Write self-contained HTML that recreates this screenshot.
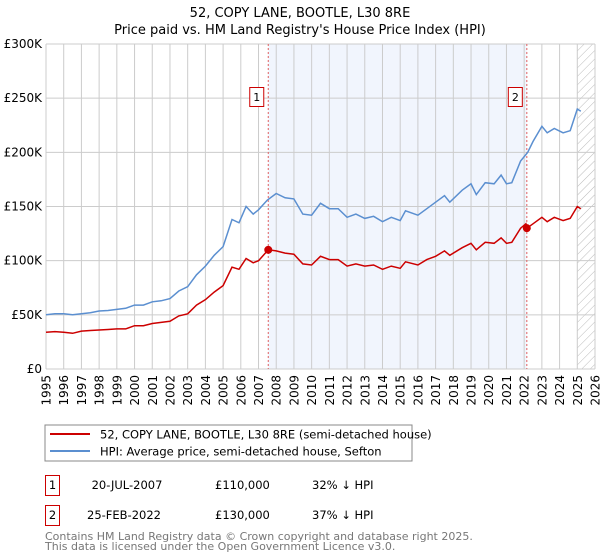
<!DOCTYPE html>
<html><head><meta charset="utf-8"><style>
body{margin:0;background:#fff;font-family:"DejaVu Sans","Liberation Sans",sans-serif;}
svg{display:block}
</style></head><body>
<svg id="c" width="600" height="560" xmlns="http://www.w3.org/2000/svg" font-family="DejaVu Sans, Liberation Sans, sans-serif">
<text x="300" y="17" text-anchor="middle" font-size="13">52, COPY LANE, BOOTLE, L30 8RE</text>
<text x="300" y="34" text-anchor="middle" font-size="13">Price paid vs. HM Land Registry's House Price Index (HPI)</text>
<g id="plot"></g>
<rect x="45" y="425" width="367" height="36" fill="#fff" stroke="#888"/>
<line x1="50" y1="434" x2="90" y2="434" stroke="#cc0000" stroke-width="2"/>
<text x="100" y="438.5" font-size="11.5">52, COPY LANE, BOOTLE, L30 8RE (semi-detached house)</text>
<line x1="50" y1="451" x2="90" y2="451" stroke="#5b8fd0" stroke-width="2"/>
<text x="100" y="455.5" font-size="11.5">HPI: Average price, semi-detached house, Sefton</text>
<g font-size="11.5">
<rect x="45.5" y="475.5" width="14" height="20" fill="#fff" stroke="#cc0000"/>
<text x="52.5" y="489" text-anchor="middle">1</text>
<text x="127" y="489" text-anchor="middle">20-JUL-2007</text>
<text x="215" y="489">£110,000</text>
<text x="312" y="489">32% ↓ HPI</text>
<rect x="45.5" y="505.5" width="14" height="20" fill="#fff" stroke="#cc0000"/>
<text x="52.5" y="519" text-anchor="middle">2</text>
<text x="124" y="519" text-anchor="middle">25-FEB-2022</text>
<text x="215" y="519">£130,000</text>
<text x="312" y="519">37% ↓ HPI</text>
</g>
<text x="45" y="540" font-size="11" fill="#777">Contains HM Land Registry data © Crown copyright and database right 2025.</text>
<text x="45" y="550" font-size="11" fill="#777">This data is licensed under the Open Government Licence v3.0.</text>
</svg>
<script>
const hpiYears=[1995,1995.5,1996,1996.5,1997,1997.5,1998,1998.5,1999,1999.5,2000,2000.5,2001,2001.5,2002,2002.5,2003,2003.5,2004,2004.5,2005,2005.5,2005.9,2006.3,2006.7,2007,2007.5,2008,2008.5,2009,2009.5,2010,2010.5,2011,2011.5,2012,2012.5,2013,2013.5,2014,2014.5,2015,2015.3,2016,2016.5,2017,2017.5,2017.8,2018.5,2019,2019.3,2019.8,2020.3,2020.7,2021,2021.3,2021.8,2022.2,2022.5,2023,2023.3,2023.7,2024.2,2024.6,2025,2025.2];
const hpiValues=[50,51,51,50,51,52,53.5,54,55,56,59,59,62,63,65,72,76,87,95,105,113,138,135,150,143,147,156,162,158,157,143,142,153,148,148,140,143,139,141,136,140,137,146,142,148,154,160,154,165,171,161,172,171,179,171,172,192,200,210,224,218,222,218,220,240,238];
const ppYears=[1995,1995.5,1996,1996.5,1997,1997.5,1998,1998.5,1999,1999.5,2000,2000.5,2001,2001.5,2002,2002.5,2003,2003.5,2004,2004.5,2005,2005.5,2005.9,2006.3,2006.7,2007,2007.55,2008,2008.5,2009,2009.5,2010,2010.5,2011,2011.5,2012,2012.5,2013,2013.5,2014,2014.5,2015,2015.3,2016,2016.5,2017,2017.5,2017.8,2018.5,2019,2019.3,2019.8,2020.3,2020.7,2021,2021.3,2021.8,2022.1,2022.15,2022.5,2023,2023.3,2023.7,2024.2,2024.6,2025,2025.2];
const ppValues=[34,34.5,34,33,35,35.5,36,36.5,37,37,40,40,42,43,44,49,51,59,64,71,77,94,92,102,98,100,110,109,107,106,97,96,104,101,101,95,97,95,96,92,95,93,99,96,101,104,109,105,112,116,110,117,116,121,116,117,130,134,130,134,140,136,140,137,139,150,148];
const saleYears=[2007.55,2022.15];
const saleValues=[110,130];
const saleLabels=["1","2"];
const yTicks=[0,50,100,150,200,250,300];
const yTickLabels=["£0","£50K","£100K","£150K","£200K","£250K","£300K"];
const xTicks=[1995,1996,1997,1998,1999,2000,2001,2002,2003,2004,2005,2006,2007,2008,2009,2010,2011,2012,2013,2014,2015,2016,2017,2018,2019,2020,2021,2022,2023,2024,2025,2026];

const X0=46,X1=595,Y0=369,Y1=44;
const xs=y=>X0+(y-1995)/(2026-1995)*(X1-X0);
const ys=v=>Y0-v/300*(Y0-Y1);
const NS="http://www.w3.org/2000/svg";
const g=document.getElementById('plot');
function mk(t,a){const e=document.createElementNS(NS,t);for(const k in a)e.setAttribute(k,a[k]);g.appendChild(e);return e;}
let e=mk('rect',{x:xs(saleYears[0]),y:Y1,width:xs(saleYears[1])-xs(saleYears[0]),height:Y0-Y1,fill:'#eef3fd',opacity:0.8});


const defs=document.createElementNS(NS,'defs');defs.innerHTML='<pattern id="h" width="6" height="6" patternUnits="userSpaceOnUse" patternTransform="rotate(45)"><line x1="0" y1="0" x2="0" y2="6" stroke="#bbb" stroke-width="1"/></pattern>';g.appendChild(defs);
e=mk('rect',{x:xs(2025),y:Y1,width:X1-xs(2025),height:Y0-Y1,fill:'url(#h)'});


xTicks.forEach(t=>{
 const l=mk('line',{x1:xs(t),x2:xs(t),y1:Y1,y2:Y0,stroke:'#ccc'});
 
 
 const x=xs(t)+4.5,y=375;
 const tx=mk('text',{x:x,y:y,'text-anchor':'end','font-size':'12',transform:'rotate(-90 '+x+' '+y+')'});
 tx.textContent=t;
 
 
});
yTicks.forEach((t,i)=>{
 const l=mk('line',{x1:X0,x2:X1,y1:ys(t),y2:ys(t),stroke:'#ccc'});
 
 
 const tx=mk('text',{x:X0-4,y:ys(t)+4,'text-anchor':'end','font-size':'12'});
 tx.textContent=yTickLabels[i];
 
 
});
saleYears.forEach((y,i)=>{
 const l=mk('line',{x1:xs(y),x2:xs(y),y1:Y1,y2:Y0,stroke:'#e06060','stroke-dasharray':'2,2'});
 
 
});
function path(xa,va,col,name){
 const p=mk('path',{d:xa.map((x,i)=>(i?'L':'M')+xs(x).toFixed(1)+','+ys(va[i]).toFixed(1)).join(''),fill:'none',stroke:col,'stroke-width':1.5});
 
 
}
path(hpiYears,hpiValues,'#5b8fd0','hpi-line');
path(ppYears,ppValues,'#cc0000','property-price-line');
saleYears.forEach((y,i)=>{
 const c=mk('circle',{cx:xs(y),cy:ys(saleValues[i]),r:4,fill:'#cc0000'});
 
 
 const r=mk('rect',{x:xs(y)-18.5,y:87.5,width:14,height:19,fill:'#fff',stroke:'#cc0000'});
 
 
 const t=mk('text',{x:xs(y)-11.5,y:101,'text-anchor':'middle','font-size':'11'});
 t.textContent=saleLabels[i];
 
 
});
</script>
</body></html>
